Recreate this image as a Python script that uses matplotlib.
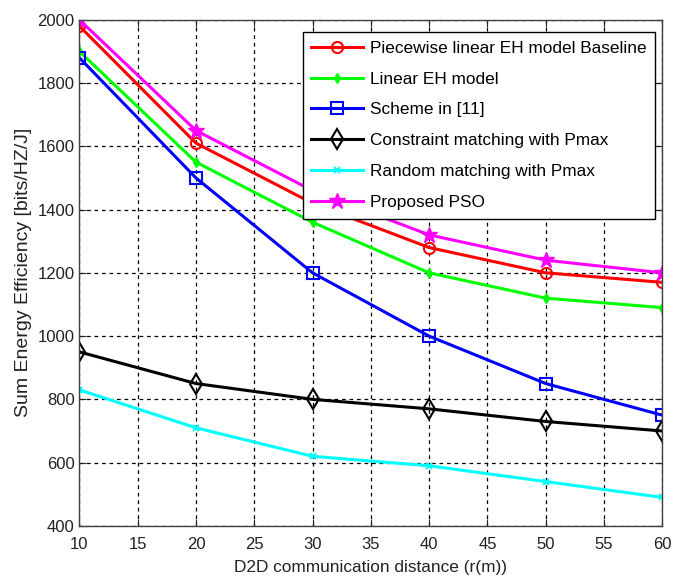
import matplotlib
matplotlib.use('Agg')
import matplotlib.pyplot as plt

plt.rcParams['font.family'] = ['Liberation Sans', 'DejaVu Sans']

# D2D distance (m)
distance = [10, 20, 30, 40, 50, 60]

# Sum energy efficiency [bits/HZ/J]
piecewise = [1980, 1610, 1420, 1280, 1200, 1170]
linear_eh = [1900, 1550, 1360, 1200, 1120, 1090]
scheme11 = [1880, 1500, 1200, 1000, 850, 750]
constraint = [950, 850, 800, 770, 730, 700]
random_match = [830, 710, 620, 590, 540, 490]
proposed = [2000, 1650, 1460, 1320, 1240, 1200]

labels = ['Piecewise linear EH model Baseline', 'Linear EH model', 'Scheme in [11]',
          'Constraint matching with Pmax', 'Random matching with Pmax', 'Proposed PSO']

fig = plt.figure(figsize=(6.73, 5.83), dpi=100)
ax = fig.add_axes([0.118, 0.098, 0.866, 0.868])

lw = 2.2
ax.plot(distance, piecewise, color='red', marker='o', mfc='none', ms=8, mew=1.5, lw=lw, label=labels[0])
ax.plot(distance, linear_eh, color='#00ff00', marker='d', ms=5, lw=lw, label=labels[1])
ax.plot(distance, scheme11, color='blue', marker='s', mfc='none', ms=9, mew=1.5, lw=lw, label=labels[2])
ax.plot(distance, constraint, color='black', marker='d', mfc='none', ms=10, mew=1.5, lw=lw, label=labels[3])
ax.plot(distance, random_match, color='cyan', marker='x', ms=4, mew=1.5, lw=lw, label=labels[4])
ax.plot(distance, proposed, color='magenta', marker='*', ms=12, lw=lw, label=labels[5])

ax.set_xlim(10, 60)
ax.set_ylim(400, 2000)
ax.set_xticks(range(10, 61, 5))
ax.set_yticks(range(400, 2001, 200))
ax.grid(True, color='black', linestyle=(0, (3, 3)), linewidth=0.9)
ax.tick_params(direction='in', top=True, right=True, length=5, labelsize=12, colors='#222222')
ax.tick_params(axis='x', pad=8)
for s in ax.spines.values():
    s.set_color('#404040')
    s.set_linewidth(1.0)

ax.set_xlabel('D2D communication distance (r(m))', fontsize=12.4, color='#222222', labelpad=6)
ax.set_ylabel('Sum Energy Efficiency [bits/HZ/J]', fontsize=14, color='#222222', labelpad=4)

leg = ax.legend(loc='upper right', bbox_to_anchor=(0.988, 0.976), borderaxespad=0,
                fontsize=12.4, frameon=True, fancybox=False, framealpha=1, edgecolor='black',
                handlelength=3.0, labelspacing=0.92, borderpad=0.5, handletextpad=0.4)
leg.get_frame().set_linewidth(1.0)

fig.savefig('out.png', dpi=100)
